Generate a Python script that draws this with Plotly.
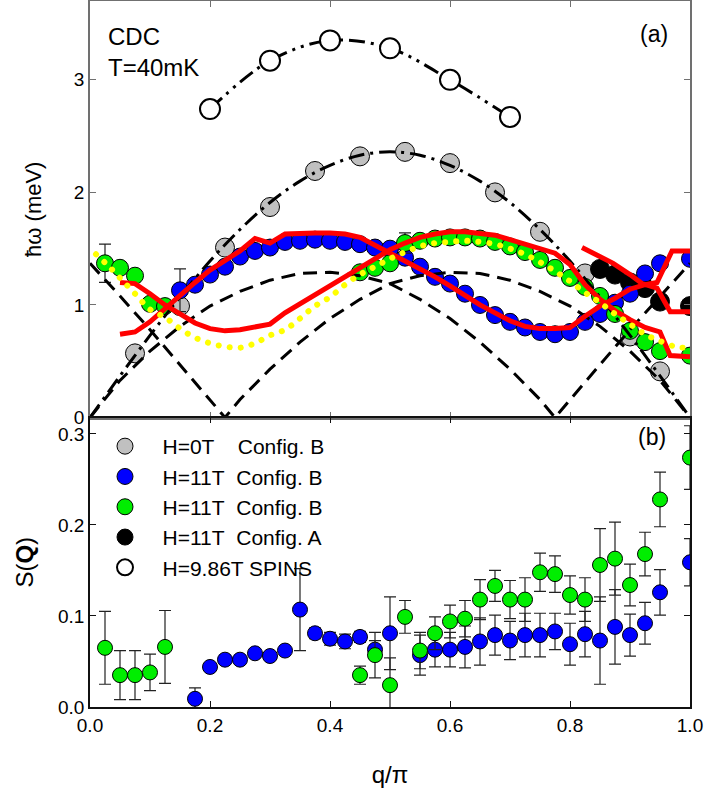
import plotly.graph_objects as go
from plotly.subplots import make_subplots

FONT = "Liberation Sans, Arial, sans-serif"

# ---------------- Panel (a): dispersion ----------------
spins_q = [0.2, 0.3, 0.4, 0.5, 0.6, 0.7]
spins_e = [2.74, 3.17, 3.35, 3.28, 3.00, 2.67]

h0_q = [0.075, 0.15, 0.225, 0.3, 0.375, 0.45, 0.525, 0.6, 0.675, 0.75, 0.825, 0.9, 0.95]
h0_e = [0.57, 0.99, 1.51, 1.87, 2.19, 2.32, 2.36, 2.26, 2.00, 1.65, 1.28, 0.72, 0.41]

blue_q = [0.15, 0.175, 0.2, 0.225, 0.25, 0.275, 0.3, 0.325, 0.35, 0.375, 0.4, 0.425,
          0.45, 0.475, 0.5, 0.525, 0.55, 0.575, 0.6, 0.625, 0.65, 0.675, 0.7, 0.725,
          0.75, 0.775, 0.8, 0.825, 0.85, 0.875, 0.9, 0.925, 0.95, 1.0]
blue_e = [1.13, 1.18, 1.27, 1.34, 1.43, 1.48, 1.51, 1.56, 1.57, 1.58, 1.57, 1.56,
          1.54, 1.51, 1.50, 1.42, 1.34, 1.25, 1.19, 1.10, 1.00, 0.91, 0.85, 0.80,
          0.76, 0.74, 0.76, 0.85, 0.92, 1.02, 1.10, 1.28, 1.37, 1.41]
blue_e_err = [0.19] + [0.0] * 33

green_q = [0.025, 0.05, 0.075, 0.1, 0.125, 0.45, 0.475, 0.5, 0.525, 0.55, 0.575, 0.6,
           0.625, 0.65, 0.675, 0.7, 0.725, 0.75, 0.775, 0.8, 0.825, 0.85, 0.875, 0.9,
           0.925, 0.95, 1.0]
green_e = [1.37, 1.33, 1.26, 1.01, 0.99, 1.29, 1.33, 1.37, 1.55, 1.57, 1.59, 1.60,
           1.60, 1.59, 1.56, 1.52, 1.47, 1.40, 1.33, 1.24, 1.16, 1.08, 0.92, 0.77,
           0.67, 0.59, 0.55]
green_e_err = [0.17, 0, 0, 0, 0, 0, 0, 0, 0.09] + [0.0] * 18

confA_q = [0.85, 0.875, 0.9, 0.925, 0.95, 1.0]
confA_e = [1.32, 1.27, 1.20, 1.15, 1.03, 0.99]

# theoretical boundaries (dashed)
bound1_q = [0, 0.05, 0.1, 0.15, 0.2, 0.25, 0.3, 0.35, 0.4, 0.45, 0.5, 0.55, 0.6, 0.65,
            0.7, 0.75, 0.775, 0.8, 0.85, 0.9, 0.95, 1.0]
bound1_e = [0, 0.33, 0.59, 0.81, 0.99, 1.12, 1.22, 1.28, 1.29, 1.26, 1.19, 1.05, 0.88,
            0.67, 0.43, 0.16, 0.0, 0.16, 0.47, 0.78, 1.08, 1.37]
bound2_q = [0, 0.05, 0.1, 0.15, 0.2, 0.225, 0.25, 0.3, 0.35, 0.4, 0.45, 0.5, 0.55, 0.6,
            0.65, 0.7, 0.75, 0.8, 0.85, 0.9, 0.95, 1.0]
bound2_e = [1.37, 1.08, 0.78, 0.47, 0.16, 0.0, 0.16, 0.43, 0.67, 0.88, 1.05, 1.19, 1.26,
            1.29, 1.28, 1.22, 1.12, 0.99, 0.81, 0.59, 0.33, 0.0]

# dash-dot curve through zero-field data
fit0_q = [0, 0.05, 0.1, 0.15, 0.2, 0.25, 0.3, 0.35, 0.4, 0.45, 0.5, 0.55, 0.6, 0.65,
          0.7, 0.75, 0.8, 0.85, 0.9, 0.95, 1.0]
fit0_e = [0, 0.37, 0.73, 1.07, 1.39, 1.67, 1.91, 2.10, 2.24, 2.33, 2.36, 2.33, 2.24,
          2.10, 1.91, 1.67, 1.39, 1.07, 0.73, 0.37, 0]

# red calculated curves
red1_q = [0.05, 0.075, 0.1, 0.125, 0.15, 0.175, 0.2, 0.225, 0.25, 0.275, 0.3, 0.325,
          0.35, 0.375, 0.4, 0.425, 0.45, 0.475, 0.5, 0.525, 0.55, 0.575, 0.6, 0.625,
          0.65, 0.675, 0.7, 0.725, 0.75, 0.775, 0.8, 0.825, 0.85, 0.875, 0.9, 0.925,
          0.95, 0.967, 1.0]
red1_e = [1.20, 1.19, 1.10, 1.00, 0.92, 0.84, 0.79, 0.77, 0.78, 0.80, 0.83, 0.93,
          1.01, 1.10, 1.18, 1.25, 1.33, 1.42, 1.49, 1.55, 1.60, 1.63, 1.65, 1.65,
          1.64, 1.62, 1.58, 1.54, 1.50, 1.46, 1.36, 1.18, 1.05, 0.95, 0.87, 0.80,
          0.76, 0.55, 0.54]
red2_q = [0.05, 0.075, 0.1, 0.125, 0.15, 0.175, 0.2, 0.225, 0.25, 0.275, 0.3, 0.325,
          0.35, 0.375, 0.4, 0.425, 0.45, 0.475, 0.5, 0.525, 0.55, 0.575, 0.6, 0.625,
          0.65, 0.675, 0.7, 0.725, 0.75, 0.775, 0.8, 0.825, 0.85, 0.875, 0.9, 0.925,
          0.945, 0.97, 1.0]
red2_e = [0.74, 0.76, 0.85, 0.97, 1.08, 1.20, 1.31, 1.40, 1.48, 1.59, 1.55, 1.63,
          1.64, 1.64, 1.64, 1.63, 1.60, 1.53, 1.47, 1.40, 1.33, 1.25, 1.17, 1.08,
          1.00, 0.93, 0.86, 0.81, 0.79, 0.79, 0.80, 0.90, 0.99, 1.06, 1.14, 1.18,
          1.20, 1.48, 1.48]
red3_q = [0.82, 0.85, 0.872, 0.9, 0.92, 0.945, 0.967, 1.0]
red3_e = [1.51, 1.43, 1.37, 1.27, 1.19, 1.15, 0.94, 0.94]

# yellow dotted curve
yel_q = [0.01, 0.03, 0.05, 0.075, 0.1, 0.125, 0.15, 0.175, 0.2, 0.225, 0.25, 0.275,
         0.3, 0.325, 0.35, 0.375, 0.4, 0.425, 0.45, 0.475, 0.5, 0.525, 0.55, 0.575,
         0.6, 0.625, 0.65, 0.675, 0.7, 0.725, 0.75, 0.775, 0.8, 0.825, 0.85, 0.875,
         0.9, 0.925, 0.95, 0.975, 0.99]
yel_e = [1.45, 1.35, 1.24, 1.10, 0.96, 0.89, 0.79, 0.71, 0.66, 0.63, 0.62, 0.66,
         0.73, 0.78, 0.88, 0.99, 1.07, 1.18, 1.27, 1.34, 1.41, 1.47, 1.52, 1.55,
         1.56, 1.57, 1.56, 1.54, 1.50, 1.45, 1.38, 1.30, 1.21, 1.11, 1.02, 0.92,
         0.83, 0.74, 0.68, 0.63, 0.62]

# ---------------- Panel (b): structure factor ----------------
sb_q = [0.175, 0.2, 0.225, 0.25, 0.275, 0.3, 0.325, 0.35, 0.375, 0.4, 0.425, 0.45,
        0.475, 0.5, 0.55, 0.575, 0.6, 0.625, 0.65, 0.675, 0.7, 0.725, 0.75, 0.775,
        0.8, 0.825, 0.85, 0.875, 0.9, 0.925, 0.95, 1.0]
sb_s = [0.009, 0.044, 0.052, 0.052, 0.059, 0.056, 0.062, 0.107, 0.081, 0.075, 0.072,
        0.077, 0.063, 0.081, 0.057, 0.063, 0.063, 0.066, 0.072, 0.079, 0.073, 0.079,
        0.079, 0.083, 0.069, 0.080, 0.073, 0.088, 0.079, 0.092, 0.126, 0.159]
sb_err = [0.012, 0.004, 0.004, 0.004, 0.004, 0.004, 0.004, 0.045, 0.006, 0.007, 0.008,
          0.006, 0.010, 0.040, 0.022, 0.019, 0.019, 0.023, 0.026, 0.022, 0.021, 0.024,
          0.024, 0.020, 0.023, 0.025, 0.048, 0.041, 0.023, 0.023, 0.025, 0.026]

sg_q = [0.025, 0.05, 0.075, 0.1, 0.125, 0.45, 0.475, 0.5, 0.525, 0.55, 0.575, 0.6,
        0.625, 0.65, 0.675, 0.7, 0.725, 0.75, 0.775, 0.8, 0.825, 0.85, 0.875, 0.9,
        0.925, 0.95, 1.0]
sg_s = [0.065, 0.035, 0.035, 0.038, 0.066, 0.035, 0.057, 0.024, 0.099, 0.062, 0.081,
        0.094, 0.097, 0.118, 0.133, 0.118, 0.118, 0.148, 0.146, 0.123, 0.118, 0.156,
        0.163, 0.134, 0.168, 0.228, 0.274]
sg_err = [0.040, 0.027, 0.027, 0.020, 0.040, 0.010, 0.025, 0.030, 0.018, 0.020, 0.018,
          0.018, 0.020, 0.022, 0.017, 0.021, 0.024, 0.021, 0.020, 0.021, 0.024, 0.040,
          0.040, 0.023, 0.024, 0.030, 0.035]

SP = "\u00a0"
names = [SP * 3 + "H=0T" + SP * 4 + "Config. B",
         SP * 3 + "H=11T" + SP * 2 + "Config. B",
         SP * 3 + "H=11T" + SP * 2 + "Config. B",
         SP * 3 + "H=11T" + SP * 2 + "Config. A",
         SP * 3 + "H=9.86T SPINS"]

C_GRAY, C_BLUE, C_GREEN, C_BLACK = "#c0c0c0", "#0000ff", "#00ee00", "#000000"
ERR = dict(color="#222222", thickness=1.2, width=6)

fig = make_subplots(rows=2, cols=1, shared_xaxes=True, vertical_spacing=0,
                    row_heights=[0.59, 0.41])

def mk(color, size):
    return dict(color=color, size=size, line=dict(color="black", width=1))

# markers (top)
fig.add_trace(go.Scatter(x=h0_q, y=h0_e, mode="markers", marker=mk(C_GRAY, 19),
                         name=names[0], legendrank=1, legendgroup="g1"), 1, 1)
fig.add_trace(go.Scatter(x=confA_q, y=confA_e, mode="markers", marker=mk(C_BLACK, 19),
                         name=names[3], legendrank=4, legendgroup="g4"), 1, 1)
fig.add_trace(go.Scatter(x=blue_q, y=blue_e, mode="markers", marker=mk(C_BLUE, 17),
                         error_y=dict(type="data", array=blue_e_err, **ERR),
                         name=names[1], legendrank=2, legendgroup="g2"), 1, 1)
fig.add_trace(go.Scatter(x=green_q, y=green_e, mode="markers", marker=mk(C_GREEN, 17),
                         error_y=dict(type="data", array=green_e_err, **ERR),
                         name=names[2], legendrank=3, legendgroup="g3"), 1, 1)

# lines (top)
DASH = "14px,8px"
fig.add_trace(go.Scatter(x=bound1_q, y=bound1_e, mode="lines", showlegend=False,
                         line=dict(color="black", width=3, dash=DASH)), 1, 1)
fig.add_trace(go.Scatter(x=bound2_q, y=bound2_e, mode="lines", showlegend=False,
                         line=dict(color="black", width=3, dash=DASH)), 1, 1)
fig.add_trace(go.Scatter(x=fit0_q, y=fit0_e, mode="lines", showlegend=False,
                         line=dict(color="black", width=3, dash="16px,6px,3px,6px",
                                   shape="spline")), 1, 1)
for rq, re_ in [(red1_q, red1_e), (red2_q, red2_e), (red3_q, red3_e)]:
    fig.add_trace(go.Scatter(x=rq, y=re_, mode="lines", showlegend=False,
                             line=dict(color="#ff0000", width=5)), 1, 1)
fig.add_trace(go.Scatter(x=yel_q, y=yel_e, mode="lines", showlegend=False,
                         line=dict(color="#ffff00", width=6, dash="5px,7px",
                                   shape="spline")), 1, 1)
fig.add_trace(go.Scatter(x=spins_q, y=spins_e, mode="lines", showlegend=False,
                         line=dict(color="black", width=3,
                                   dash="16px,6px,3px,6px,3px,6px", shape="spline")), 1, 1)
fig.add_trace(go.Scatter(x=spins_q, y=spins_e, mode="markers",
                         marker=dict(color="white", size=20,
                                     line=dict(color="black", width=2)),
                         name=names[4], legendrank=5, legendgroup="g5"), 1, 1)

# bottom panel
fig.add_trace(go.Scatter(x=sb_q, y=sb_s, mode="markers", marker=mk(C_BLUE, 15),
                         error_y=dict(type="data", array=sb_err, **ERR),
                         showlegend=False), 2, 1)
fig.add_trace(go.Scatter(x=sg_q, y=sg_s, mode="markers", marker=mk(C_GREEN, 15),
                         error_y=dict(type="data", array=sg_err, **ERR),
                         showlegend=False), 2, 1)

AX_TOP = "#707070"
AX_BOT = "#111111"
tickfont = dict(family=FONT, size=19, color="black")

fig.update_xaxes(range=[0, 1], showgrid=False, zeroline=False, ticks="inside",
                 ticklen=6, mirror="ticks", showline=True, linewidth=1.5,
                 linecolor=AX_TOP, tickcolor=AX_TOP, showticklabels=False,
                 tickvals=[0.2, 0.4, 0.6, 0.8], automargin=False, row=1, col=1)
fig.update_xaxes(range=[0, 1], showgrid=False, zeroline=False, ticks="inside",
                 ticklen=6, mirror="ticks", showline=True, linewidth=1.5,
                 linecolor=AX_BOT, tickcolor=AX_BOT, tickvals=[0, 0.2, 0.4, 0.6, 0.8, 1.0],
                 ticktext=["0.0", "0.2", "0.4", "0.6", "0.8", "1.0"], tickfont=tickfont,
                 automargin=False,
                 title=dict(text="q/\u03c0", font=dict(family=FONT, size=24, color="black"),
                            standoff=32), row=2, col=1)
fig.update_yaxes(range=[0, 3.7], showgrid=False, zeroline=False, ticks="inside",
                 ticklen=6, mirror="ticks", showline=True, linewidth=1.5,
                 linecolor=AX_TOP, tickcolor=AX_TOP, tickvals=[0, 1, 2, 3],
                 tickfont=tickfont, automargin=False,
                 title=dict(text="\u0127\u03c9 (meV)", font=dict(family=FONT, size=22, color="black"),
                            standoff=26), row=1, col=1)
fig.update_yaxes(range=[0, 0.318], showgrid=False, zeroline=False, ticks="inside",
                 ticklen=6, mirror="ticks", showline=True, linewidth=1.5,
                 linecolor=AX_BOT, tickcolor=AX_BOT, tickvals=[0, 0.1, 0.2, 0.3],
                 ticktext=["0.0", "0.1", "0.2", "0.3"], tickfont=tickfont,
                 automargin=False,
                 title=dict(text="S(<b>Q</b>)", font=dict(family=FONT, size=24, color="black"),
                            standoff=18), row=2, col=1)

fig.add_annotation(x=0.027, y=0.972, xref="paper", yref="paper", xanchor="left",
                   yanchor="top", align="left", showarrow=False, text="CDC<br>T=40mK",
                   font=dict(family=FONT, size=24, color="black"))
fig.add_annotation(x=0.967, y=0.975, xref="paper", yref="paper", xanchor="right",
                   yanchor="top", showarrow=False, text="(a)",
                   font=dict(family=FONT, size=23, color="black"))
fig.add_annotation(x=0.963, y=0.403, xref="paper", yref="paper", xanchor="right",
                   yanchor="top", showarrow=False, text="(b)",
                   font=dict(family=FONT, size=23, color="black"))

fig.update_layout(
    width=704, height=796,
    margin=dict(l=90, r=14, t=1, b=89, autoexpand=False),
    paper_bgcolor="white", plot_bgcolor="white",
    font=dict(family=FONT, color="black"),
    legend=dict(x=0.025, y=0.398, xanchor="left", yanchor="top",
                bgcolor="rgba(0,0,0,0)", font=dict(family=FONT, size=21, color="black"),
                traceorder="normal", tracegroupgap=0, itemsizing="trace"),
)

# remove the browser's default page margin so the figure sits at the window origin;
# draw the yellow dotted curve with round dots
post = """
document.body.style.margin = '0';
document.querySelectorAll('path.js-line').forEach(function(p) {
  if (p.style.stroke === 'rgb(255, 255, 0)') {
    p.style.strokeLinecap = 'round';
    p.style.strokeDasharray = '0.1px,11px';
  }
});
"""
fig.write_html("out.html", post_script=post, config={"displayModeBar": False})
